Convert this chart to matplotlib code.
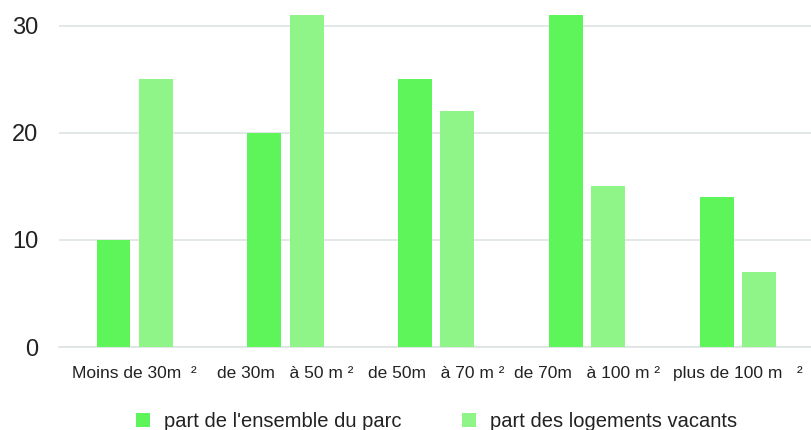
import matplotlib
matplotlib.use("Agg")
import matplotlib.pyplot as plt
import numpy as np

plt.rcParams['font.family'] = ['Liberation Sans', 'DejaVu Sans']

categories = ["Moins de 30m  \u00b2", "de 30m   \u00e0 50 m \u00b2", "de 50m   \u00e0 70 m \u00b2",
              "de 70m   \u00e0 100 m \u00b2", "plus de 100 m   \u00b2"]
parc = [10, 20, 25, 31, 14]
vacants = [25, 31, 22, 15, 7]
yticks = [0, 10, 20, 30]

fig = plt.figure(figsize=(8.11, 4.30), dpi=100)
ax = fig.add_axes([0.073, 0.193, 0.93, 0.807])

x = np.arange(len(categories))
w = 0.225
ax.bar(x - 0.14, parc, w, color='#5EF55A', label="part de l'ensemble du parc", zorder=3)
ax.bar(x + 0.14, vacants, w, color='#90F588', label="part des logements vacants", zorder=3)

ax.set_xlim(-0.5, 4.5)
ax.set_ylim(0, 32.4)
ax.set_yticks(yticks)
ax.set_xticks(x)
ax.set_xticklabels(categories, fontsize=12.5, color='#222222')
ax.tick_params(axis='y', labelsize=17, colors='#222222', length=0, pad=15)
ax.tick_params(axis='x', length=0, pad=14)
ax.grid(axis='y', color='#dde3e3', linewidth=1.2, zorder=0)
for s in ['top', 'right', 'left']:
    ax.spines[s].set_visible(False)
ax.spines['bottom'].set_color('#dde3e3')
ax.spines['bottom'].set_linewidth(1.2)

ax.legend(loc='center', bbox_to_anchor=(0.5, -0.215), ncol=2, frameon=False,
          fontsize=14.5, handlelength=0.7, handleheight=0.7, columnspacing=3.0,
          handletextpad=0.7, labelcolor='#222222')

fig.savefig("out.png")
